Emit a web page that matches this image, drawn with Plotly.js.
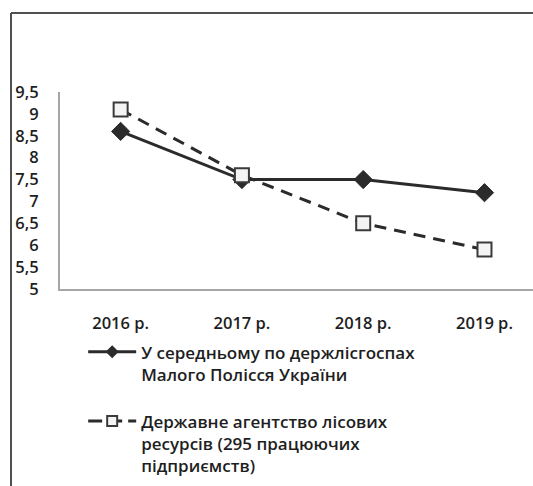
<!DOCTYPE html>
<html>
<head>
<meta charset="utf-8">
<script src="https://cdn.plot.ly/plotly-3.0.1.min.js"></script>
<style>html,body{margin:0;padding:0;background:#fff;}#chart{width:533px;height:486px;}</style>
</head>
<body>
<div id="chart"></div>
<script>
const years = ["2016 р.", "2017 р.", "2018 р.", "2019 р."];
const avgPolissia = [8.6, 7.5, 7.5, 7.2];
const stateAgency = [9.1, 7.6, 6.5, 5.9];
const seriesNames = [
  "У середньому по держлісгоспах<br>Малого Полісся України",
  "Державне агентство лісових<br>ресурсів (295 працюючих<br>підприємств)"
];
const yTicks = [5, 5.5, 6, 6.5, 7, 7.5, 8, 8.5, 9, 9.5];

const textColor = "#1e1e1e";
const fontFam = "'Open Sans', 'Noto Sans', sans-serif";
const mkFont = (s) => ({family: fontFam, size: s, color: textColor, weight: 600});

const solidLine = {color: "#2b2b2b", width: 3};
const dashLine = {color: "#2b2b2b", width: 3, dash: "12px,8px"};
const legendDashLine = {color: "#2b2b2b", width: 3, dash: "14px,6px"};

const traces = [
  {
    x: years, y: avgPolissia, name: seriesNames[0], type: "scatter", mode: "lines+markers",
    showlegend: false,
    line: solidLine,
    marker: {symbol: "diamond", size: 14, color: "#2b2b2b", line: {color: "#2b2b2b", width: 1}}
  },
  {
    x: years, y: stateAgency, name: seriesNames[1], type: "scatter", mode: "lines+markers",
    showlegend: false,
    line: dashLine,
    marker: {symbol: "square", size: 14, color: "#f4f4f4", line: {color: "#3a3a3a", width: 2}}
  },
  // legend-only entries (smaller symbols, as in the reference legend)
  {
    x: [null], y: [null], name: seriesNames[0], type: "scatter", mode: "lines+markers",
    legendgroup: "a",
    line: solidLine,
    marker: {symbol: "diamond", size: 10, color: "#2b2b2b"}
  },
  {
    x: [null], y: [null], name: seriesNames[1], type: "scatter", mode: "lines+markers",
    legendgroup: "b",
    line: legendDashLine,
    marker: {symbol: "square", size: 10, color: "#f4f4f4", line: {color: "#3a3a3a", width: 2}}
  }
];

const layout = {
  width: 533, height: 486,
  margin: {l: 60, r: 0, t: 92, b: 197},
  paper_bgcolor: "#ffffff", plot_bgcolor: "#ffffff",
  separators: ", ",
  font: mkFont(16),
  xaxis: {
    type: "category", range: [-0.5, 3.4],
    showgrid: false, zeroline: false,
    showline: true, linecolor: "#a6a6a6", linewidth: 2,
    ticks: "", ticklabelstandoff: 18,
    tickfont: mkFont(16.5)
  },
  yaxis: {
    range: [5, 9.5], tickvals: yTicks, tickformat: ".1~f",
    showgrid: false, zeroline: false,
    showline: true, linecolor: "#a6a6a6", linewidth: 2,
    ticks: "", ticklabelstandoff: 16,
    tickfont: mkFont(16.5)
  },
  showlegend: true,
  legend: {
    x: 0.049, xanchor: "left", y: -0.23, yanchor: "top",
    valign: "top", tracegroupgap: 22, traceorder: "grouped",
    itemwidth: 48,
    bgcolor: "rgba(0,0,0,0)",
    font: mkFont(17)
  },
  shapes: [
    {type: "line", xref: "paper", yref: "paper", x0: -0.1036, x1: -0.1036, y0: 1.401, y1: -1.2,
      line: {color: "#505050", width: 2}},
    {type: "line", xref: "paper", yref: "paper", x0: -0.1036, x1: 1.2, y0: 1.401, y1: 1.401,
      line: {color: "#505050", width: 2}}
  ]
};

Plotly.newPlot("chart", traces, layout, {displayModeBar: false, staticPlot: true});
</script>
</body>
</html>
